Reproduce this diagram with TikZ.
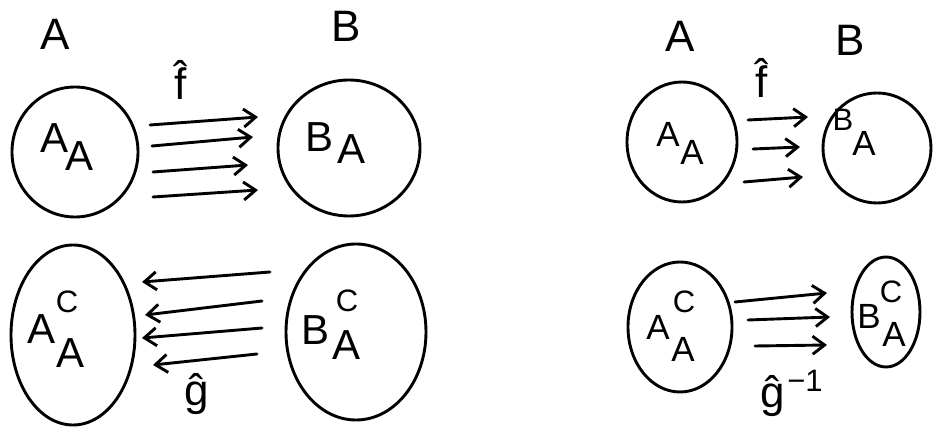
\documentclass[tikz,border=0pt]{standalone}
\usepackage{fontspec}
\setmainfont{Liberation Sans}
\usetikzlibrary{shapes.geometric,arrows.meta}
\tikzset{
  blob/.style={draw, ellipse, line width=2.9pt, inner sep=0pt},
  hand/.style={line width=2.9pt, line cap=round,
    -{Straight Barb[length=12pt,width=18pt,line width=2.9pt]}},
  big/.style={font=\fontsize{44}{46}\selectfont, inner sep=0pt},
  mid/.style={font=\fontsize{42}{44}\selectfont, inner sep=0pt},
  lab/.style={font=\fontsize{35}{37}\selectfont, inner sep=0pt},
  sup/.style={font=\fontsize{31}{33}\selectfont, inner sep=0pt},
}
\begin{document}
\begin{tikzpicture}[x=1pt,y=-1pt]
\useasboundingbox (0,0) rectangle (938,427);
% ---------- left diagram ----------
\node[blob, minimum width=126pt, minimum height=130pt] (AA) at (75,152) {};
\node[blob, minimum width=142pt, minimum height=136pt] (BA) at (349,148) {};
\node[blob, minimum width=124pt, minimum height=180pt] (AC) at (73,335) {};
\node[blob, minimum width=140pt, minimum height=176pt] (BC) at (356,332) {};
\node[big] (tA) at (55,34) {A};
\node[big] (tB) at (346,26) {B};
\node[big] (fh) at (181,80) {\^{f}};
\node[mid] (a1) at (55,138) {A};
\node[mid] (a2) at (80,156) {A};
\node[mid] (b1) at (320,137) {B};
\node[mid] (b2) at (352,149) {A};
\node[mid] (c1) at (42,329) {A};
\node[sup] (c2) at (67,302) {C};
\node[mid] (c3) at (71,353) {A};
\node[mid] (d1) at (316,330) {B};
\node[sup] (d2) at (347,301) {C};
\node[mid] (d3) at (347,345) {A};
\node[big] (gh) at (197,394) {\^{g}};
\coordinate (f1s) at (150,125); \coordinate (f1e) at (258,117);
\coordinate (f2s) at (152,146); \coordinate (f2e) at (253,137);
\coordinate (f3s) at (153,172); \coordinate (f3e) at (248,165);
\coordinate (f4s) at (153,197); \coordinate (f4e) at (258,190);
\draw[hand] (f1s) -- (f1e);
\draw[hand] (f2s) -- (f2e);
\draw[hand] (f3s) -- (f3e);
\draw[hand] (f4s) -- (f4e);
\coordinate (g1s) at (270,272); \coordinate (g1e) at (142,282);
\coordinate (g2s) at (262,301); \coordinate (g2e) at (145,315);
\coordinate (g3s) at (262,328); \coordinate (g3e) at (142,338);
\coordinate (g4s) at (257,354); \coordinate (g4e) at (153,365);
\draw[hand] (g1s) -- (g1e);
\draw[hand] (g2s) -- (g2e);
\draw[hand] (g3s) -- (g3e);
\draw[hand] (g4s) -- (g4e);
% ---------- right diagram ----------
\node[blob, minimum width=110pt, minimum height=120pt] (rAA) at (682,142) {};
\node[blob, minimum width=108pt, minimum height=110pt] (rBA) at (877,148) {};
\node[blob, minimum width=104pt, minimum height=130pt] (rAC) at (680,327) {};
\node[blob, minimum width=68pt, minimum height=110pt] (rBC) at (886,312) {};
\node[big] (rtA) at (680,36) {A};
\node[big] (rtB) at (850,40) {B};
\node[big] (rfh) at (762,78) {\^{f}};
\node[lab] (ra1) at (668,134) {A};
\node[lab] (ra2) at (692,152) {A};
\node[sup] (rb1) at (843,120) {B};
\node[lab] (rb2) at (864,143) {A};
\node[lab] (rc1) at (658,327) {A};
\node[sup] (rc2) at (684,302) {C};
\node[lab] (rc3) at (683,349) {A};
\node[lab] (rd1) at (869,316) {B};
\node[sup] (rd2) at (891,292) {C};
\node[lab] (rd3) at (894,334) {A};
\node[big] (rgh) at (773,396) {\^{g}};
\node[sup] (rgm) at (805,381) {−1};
\coordinate (h1s) at (748,120); \coordinate (h1e) at (808,117);
\coordinate (h2s) at (753,149); \coordinate (h2e) at (800,147);
\coordinate (h3s) at (744,182); \coordinate (h3e) at (803,177);
\draw[hand] (h1s) -- (h1e);
\draw[hand] (h2s) -- (h2e);
\draw[hand] (h3s) -- (h3e);
\coordinate (k1s) at (735,302); \coordinate (k1e) at (827,293);
\coordinate (k2s) at (748,320); \coordinate (k2e) at (830,317);
\coordinate (k3s) at (755,346); \coordinate (k3e) at (827,345);
\draw[hand] (k1s) -- (k1e);
\draw[hand] (k2s) -- (k2e);
\draw[hand] (k3s) -- (k3e);
\end{tikzpicture}
\end{document}
